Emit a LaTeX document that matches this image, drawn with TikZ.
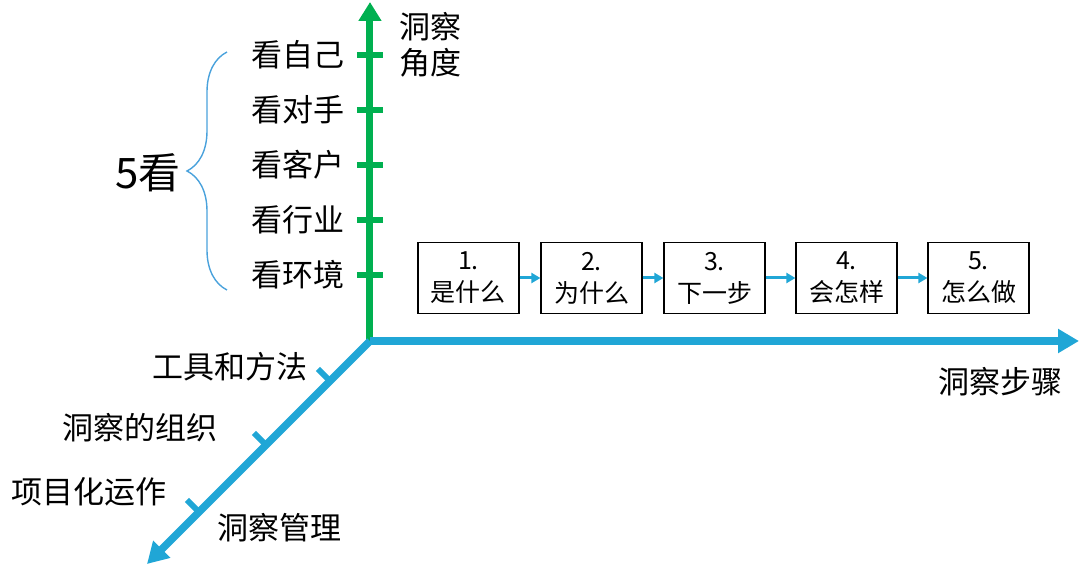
\documentclass[tikz,border=0pt]{standalone}
\usepackage{fontspec}
\setmainfont{Noto Sans CJK SC}
\usetikzlibrary{positioning,arrows.meta,decorations.pathreplacing}

\definecolor{axisgreen}{RGB}{0,176,80}
\definecolor{axisblue}{RGB}{32,166,214}
\definecolor{bracecol}{RGB}{74,162,220}

\begin{document}
\begin{tikzpicture}[x=1pt,y=1pt,
    gaxis/.style={draw=axisgreen,line width=7pt,-{Triangle[length=19pt,width=22pt]}},
    baxis/.style={draw=axisblue,line width=7.5pt,-{Triangle[length=21pt,width=23pt]}},
    gtick/.style={draw=axisgreen,line width=6.5pt},
    btick/.style={draw=axisblue,line width=6pt},
    lookitem/.style={inner sep=0pt,font=\fontsize{31}{36}\selectfont},
    axislabel/.style={inner sep=0pt,align=left,font=\fontsize{31}{36}\selectfont},
    stepbox/.style={rectangle,draw,line width=1.2pt,minimum width=101pt,minimum height=71pt,inner sep=0pt,align=center,font=\fontsize{25}{32}\selectfont},
    flow/.style={draw=axisblue,line width=3pt,-{Triangle[length=9pt,width=10pt]}},
    node distance=20.8pt
]
    \useasboundingbox (-370,-224) rectangle (710,341);
    % axes
    \coordinate (o) at (0,0);
    \coordinate (gtop) at (0,339);
    \coordinate (btip) at (709,0);
    \coordinate (dtip) at (-223,-223);
    \draw[gaxis] (o) -- (gtop);
    \draw[baxis] (o) -- (btip);
    \draw[baxis] (o) -- (dtip);

    % angle axis: 5 looks
    \coordinate (g1) at (0,286);
    \coordinate (g2) at (0,231);
    \coordinate (g3) at (0,176);
    \coordinate (g4) at (0,121);
    \coordinate (g5) at (0,66);
    \draw[gtick] ([xshift=-13pt]g1) -- ([xshift=13pt]g1);
    \draw[gtick] ([xshift=-13pt]g2) -- ([xshift=13pt]g2);
    \draw[gtick] ([xshift=-13pt]g3) -- ([xshift=13pt]g3);
    \draw[gtick] ([xshift=-13pt]g4) -- ([xshift=13pt]g4);
    \draw[gtick] ([xshift=-13pt]g5) -- ([xshift=13pt]g5);
    \node[lookitem,left=25pt of g1] (l1) {看自己};
    \node[lookitem,left=25pt of g2] (l2) {看对手};
    \node[lookitem,left=25pt of g3] (l3) {看客户};
    \node[lookitem,left=25pt of g4] (l4) {看行业};
    \node[lookitem,left=25pt of g5] (l5) {看环境};
    \node[axislabel,anchor=west] (angle) at (29,296) {洞察\\角度};

    \draw[draw=bracecol,line width=1.4pt,decorate,decoration={brace,amplitude=40pt}] (-143,51) -- (-143,289);
    \node[inner sep=0pt,font=\fontsize{42}{46}\selectfont] (five) at (-222,168) {5看};

    % step axis
    \node[stepbox] (s1) at (98.5,63) {1.\\是什么};
    \node[stepbox,right=of s1] (s2) {2.\\为什么};
    \node[stepbox,right=of s2] (s3) {3.\\下一步};
    \node[stepbox,right=29.8pt of s3] (s4) {4.\\会怎样};
    \node[stepbox,right=29.8pt of s4] (s5) {5.\\怎么做};
    \draw[flow] (s1) -- (s2);
    \draw[flow] (s2) -- (s3);
    \draw[flow] (s3) -- (s4);
    \draw[flow] (s4) -- (s5);
    \node[axislabel] (steps) at (630,-41) {洞察步骤};

    % management axis
    \coordinate (d1) at (-40,-40);
    \coordinate (d2) at (-104,-104);
    \coordinate (d3) at (-171,-171);
    \draw[btick] (d1) -- ++(-12,12);
    \draw[btick] (d2) -- ++(-12,12);
    \draw[btick] (d3) -- ++(-12,12);
    \node[lookitem] (m1) at (-140,-26) {工具和方法};
    \node[lookitem] (m2) at (-229.5,-87) {洞察的组织};
    \node[lookitem] (m3) at (-280.5,-151) {项目化运作};
    \node[axislabel] (manage) at (-90,-187) {洞察管理};
\end{tikzpicture}
\end{document}
